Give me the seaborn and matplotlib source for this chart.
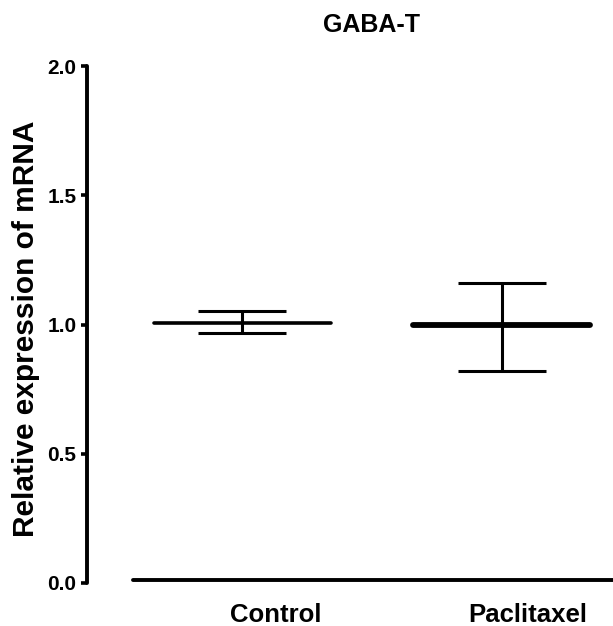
import numpy as np
import pandas as pd
import seaborn as sns
import matplotlib.pyplot as plt

# summary values (mean with error bar limits)
groups = ["Control", "Paclitaxel"]
means = [1.007, 0.997]
err_hi = [1.052, 1.160]
err_lo = [0.968, 0.820]
yticks = [0.0, 0.5, 1.0, 1.5, 2.0]

df = pd.DataFrame({"group": groups, "mean": means, "hi": err_hi, "lo": err_lo})
df["x"] = np.arange(len(df))

sns.set_style("ticks")
plt.rcParams['font.family'] = ['Liberation Sans', 'DejaVu Sans']
plt.rcParams['font.weight'] = 'bold'
plt.rcParams['text.color'] = 'black'
plt.rcParams['axes.labelcolor'] = 'black'
plt.rcParams['xtick.color'] = 'black'
plt.rcParams['ytick.color'] = 'black'

fig = plt.figure(figsize=(6.13, 6.26), dpi=100)
ax = fig.add_axes([87 / 613, 43 / 626, 526 / 613, 517 / 626])

# mean lines (Paclitaxel drawn heavier as in the original)
mean_lw = [2.6, 4.2]
for (_, r), lw in zip(df.iterrows(), mean_lw):
    ax.hlines(r["mean"], r["x"] - 0.34, r["x"] + 0.34, color="black",
              linewidth=lw, capstyle="round", zorder=3)

# error bars
ax.errorbar(df["x"], df["mean"],
            yerr=[df["mean"] - df["lo"], df["hi"] - df["mean"]],
            fmt="none", ecolor="black", elinewidth=2.2, capsize=32,
            capthick=2.2, zorder=2)

ax.set_xlim(-0.600, 1.430)
ax.set_ylim(0, 2.0)
ax.set_yticks(yticks)
ax.set_yticklabels([f"{v:.1f}" for v in yticks])

# category labels sit a bit right of the data in the original
label_shift = [0.13, 0.10]
ax.set_xticks(df["x"] + np.array(label_shift))
ax.set_xticklabels(groups)
ax.tick_params(axis="x", length=0, pad=16.5, labelsize=18.5, labelcolor="black")
ax.tick_params(axis="y", length=4.5, width=2.6, pad=3, color="black",
               labelsize=15, labelcolor="black")
for lab in ax.get_xticklabels() + ax.get_yticklabels():
    lab.set_fontweight("bold")

sns.despine(ax=ax)
for s in ["left", "bottom"]:
    ax.spines[s].set_linewidth(2.8)
    ax.spines[s].set_color("black")
    ax.spines[s].set_capstyle("round")
ax.spines["bottom"].set_bounds(-0.423, 1.43)
ax.spines["bottom"].set_position(("outward", -2))

ax.set_ylabel("Relative expression of mRNA", fontsize=21.5, fontweight="bold",
              color="black")
ax.yaxis.set_label_coords(-0.09, 0.491)

ax.text(0.54, 1.079, "GABA-T", transform=ax.transAxes, ha="center", va="center",
        fontsize=18, fontweight="bold", color="black")

fig.savefig("out.png", dpi=100)
